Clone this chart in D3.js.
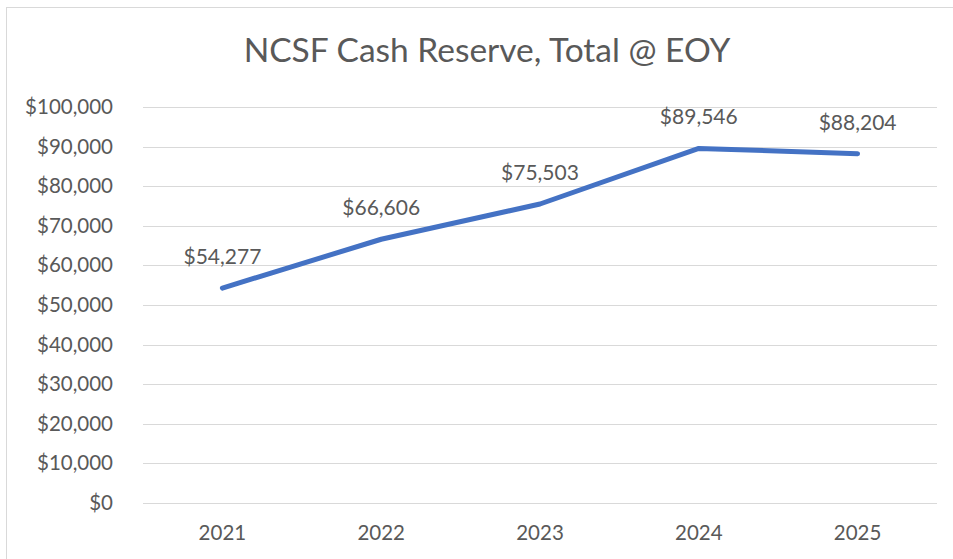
<html>
<head>
<meta charset="utf-8">
<title>NCSF Cash Reserve</title>
<style>
  body { margin: 0; background: #fff; }
  svg text { font-family: Lato, "Open Sans", sans-serif; fill: #595959; }
</style>
</head>
<body>
<script src="https://cdn.jsdelivr.net/npm/d3@7"></script>
<script>
    var w = 953, h = 559;
    var years = ['2021', '2022', '2023', '2024', '2025'];
    var reserve = [54277, 66606, 75503, 89546, 88204];
    var yTicks = [0, 10000, 20000, 30000, 40000, 50000, 60000, 70000, 80000, 90000, 100000];

    var plot = {left: 143, right: 937, top: 107, bottom: 503};

    var svg = d3.select('body').append('svg')
        .attr('width', w)
        .attr('height', h);

    // outer chart frame
    svg.append('rect')
        .attr('x', 6.5).attr('y', 7.5)
        .attr('width', w + 10).attr('height', h + 10)
        .attr('fill', 'none')
        .attr('stroke', '#d9d9d9');

    var x = d3.scaleBand().domain(years).range([plot.left, plot.right]);
    var y = d3.scaleLinear().domain([0, 100000]).range([plot.bottom, plot.top]);
    var fmt = function (v) { return '$' + d3.format(',')(v); };

    // gridlines
    svg.append('g').selectAll('line')
        .data(yTicks)
        .enter().append('line')
        .attr('x1', plot.left).attr('x2', plot.right)
        .attr('y1', function (d) { return Math.round(y(d)) + 0.5; })
        .attr('y2', function (d) { return Math.round(y(d)) + 0.5; })
        .attr('stroke', '#d9d9d9')
        .attr('stroke-width', 1);

    // y axis labels
    var yAxis = d3.axisLeft(y).tickValues(yTicks).tickFormat(fmt).tickSize(0).tickPadding(30);
    var gy = svg.append('g').attr('transform', 'translate(' + plot.left + ',0)').call(yAxis);
    gy.select('.domain').remove();
    gy.selectAll('text').style('font-size', '20.5px').attr('fill', '#595959');

    // x axis labels
    var xAxis = d3.axisBottom(x).tickSize(0).tickPadding(22);
    var gx = svg.append('g').attr('transform', 'translate(0,' + plot.bottom + ')').call(xAxis);
    gx.select('.domain').remove();
    gx.selectAll('text').style('font-size', '20.5px').attr('fill', '#595959');

    // line
    var line = d3.line()
        .x(function (d, i) { return x(years[i]) + x.bandwidth() / 2; })
        .y(function (d) { return y(d); });

    svg.append('path')
        .datum(reserve)
        .attr('d', line)
        .attr('fill', 'none')
        .attr('stroke', '#4472c4')
        .attr('stroke-width', 5)
        .attr('stroke-linecap', 'round')
        .attr('stroke-linejoin', 'round');

    // data labels
    svg.append('g').selectAll('text')
        .data(reserve)
        .enter().append('text')
        .text(fmt)
        .attr('x', function (d, i) { return x(years[i]) + x.bandwidth() / 2; })
        .attr('y', function (d) { return y(d) - 24; })
        .attr('text-anchor', 'middle')
        .style('font-size', '21px')
        .attr('fill', '#404040');

    // title
    svg.append('text')
        .text('NCSF Cash Reserve, Total @ EOY')
        .attr('x', 487).attr('y', 62)
        .attr('text-anchor', 'middle')
        .style('font-size', '33.5px')
        .attr('fill', '#595959');
</script>
</body>
</html>
